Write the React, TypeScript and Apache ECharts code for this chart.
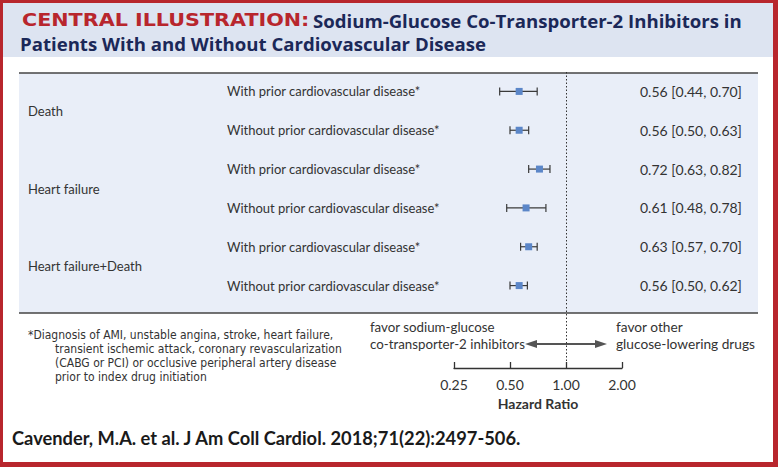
import React, { useEffect, useRef } from "react";
import * as echarts from "echarts";

const subgroupLabels = [
  "With prior cardiovascular disease*",
  "Without prior cardiovascular disease*",
  "With prior cardiovascular disease*",
  "Without prior cardiovascular disease*",
  "With prior cardiovascular disease*",
  "Without prior cardiovascular disease*",
];
const groupLabels = ["Death", "Heart failure", "Heart failure+Death"];
const hrValues = [0.56, 0.56, 0.72, 0.61, 0.63, 0.56];
const ciLower = [0.44, 0.5, 0.63, 0.48, 0.57, 0.5];
const ciUpper = [0.7, 0.63, 0.82, 0.78, 0.7, 0.62];
const axisTicks = [0.25, 0.5, 1, 2];
const footnoteLines = [
  "*Diagnosis of AMI, unstable angina, stroke, heart failure,",
  "transient ischemic attack, coronary revascularization",
  "(CABG or PCI) or occlusive peripheral artery disease",
  "prior to index drug initiation",
];

const fmt = (v: number) => v.toFixed(2);
const ciText = hrValues.map((h, i) => `${fmt(h)} [${fmt(ciLower[i])}, ${fmt(ciUpper[i])}]`);

const RED = "#b8262d";
const NAVY = "#1b2858";
const TEXT = "#333333";
const BODY_FONT = "Lato, 'Noto Sans', sans-serif";
const TITLE_FONT = "'Open Sans', 'Noto Sans', sans-serif";
const NARROW_FONT = "'Liberation Sans Narrow', 'DejaVu Sans Condensed', sans-serif";

export default function App() {
  const ref = useRef<HTMLDivElement>(null);
  useEffect(() => {
    document.body.style.margin = "0";
    const chart = echarts.init(ref.current!, null, { renderer: "svg" });
    const cats = subgroupLabels.map((_, i) => String(i));
    const gridTop = 72;
    const gridH = 233;
    const rowH = gridH / subgroupLabels.length;

    const option: any = {
      animation: false,
      backgroundColor: "#ffffff",
      grid: [
        { left: 454, width: 168, top: gridTop, height: gridH },
        { left: 454, width: 168, top: gridTop + gridH, height: 368 - gridTop - gridH },
      ],
      xAxis: [
        {
          type: "log",
          logBase: 2,
          min: axisTicks[0],
          max: axisTicks[axisTicks.length - 1],
          gridIndex: 0,
          show: false,
        },
        {
          type: "log",
          logBase: 2,
          min: axisTicks[0],
          max: axisTicks[axisTicks.length - 1],
          gridIndex: 1,
          position: "bottom",
          axisLine: { show: true, lineStyle: { color: "#333", width: 1.3 } },
          axisTick: { show: true, inside: true, length: 6, lineStyle: { color: "#333", width: 1.3 } },
          minorTick: { show: false },
          splitLine: { show: false },
          axisLabel: {
            margin: 9,
            color: TEXT,
            fontSize: 14,
            fontFamily: BODY_FONT,
            formatter: (v: number) => fmt(v),
          },
          name: "Hazard Ratio",
          nameLocation: "middle",
          nameGap: 28,
          nameTextStyle: { color: TEXT, fontSize: 14, fontWeight: "bold", fontFamily: BODY_FONT },
        },
      ],
      yAxis: [
        {
          type: "category",
          gridIndex: 0,
          data: cats,
          inverse: true,
          axisLine: { show: false },
          axisTick: { show: false },
          splitLine: { show: false },
          axisLabel: {
            align: "left",
            margin: 454 - 227,
            color: TEXT,
            fontSize: 13,
            fontFamily: BODY_FONT,
            formatter: (_v: string, i: number) => subgroupLabels[i],
          },
        },
        {
          type: "category",
          gridIndex: 0,
          position: "right",
          data: cats,
          inverse: true,
          axisLine: { show: false },
          axisTick: { show: false },
          splitLine: { show: false },
          axisLabel: {
            align: "left",
            margin: 640 - 622,
            color: TEXT,
            fontSize: 14,
            fontFamily: BODY_FONT,
            formatter: (_v: string, i: number) => ciText[i],
          },
        },
        { type: "value", gridIndex: 1, min: 0, max: 1, show: false },
      ],
      series: [
        {
          type: "custom",
          xAxisIndex: 0,
          yAxisIndex: 0,
          z: 5,
          encode: { x: [1, 2, 3], y: 0 },
          data: hrValues.map((h, i) => [i, h, ciLower[i], ciUpper[i]]),
          renderItem: (_p: any, api: any) => {
            const y = api.value(0);
            const pM = api.coord([api.value(1), y]);
            const pL = api.coord([api.value(2), y]);
            const pR = api.coord([api.value(3), y]);
            const ls = { stroke: "#3a3a3a", lineWidth: 1.2 };
            return {
              type: "group",
              children: [
                { type: "line", shape: { x1: pL[0], y1: pL[1], x2: pR[0], y2: pR[1] }, style: ls },
                { type: "line", shape: { x1: pL[0], y1: pL[1] - 4, x2: pL[0], y2: pL[1] + 4 }, style: ls },
                { type: "line", shape: { x1: pR[0], y1: pR[1] - 4, x2: pR[0], y2: pR[1] + 4 }, style: ls },
                {
                  type: "rect",
                  shape: { x: pM[0] - 3.5, y: pM[1] - 3.5, width: 7, height: 7 },
                  style: { fill: "#5b86c8" },
                },
              ],
            };
          },
          markLine: {
            silent: true,
            symbol: "none",
            label: { show: false },
            lineStyle: { color: "#333", type: [1.5, 2], width: 1 },
            data: [{ xAxis: 1 }],
          },
        },
        {
          type: "scatter",
          xAxisIndex: 1,
          yAxisIndex: 2,
          symbolSize: 0,
          data: [[1, 0.5]],
          silent: true,
          markLine: {
            silent: true,
            symbol: "none",
            label: { show: false },
            lineStyle: { color: "#333", type: [1.5, 2], width: 1 },
            data: [{ xAxis: 1 }],
          },
        },
      ],
      graphic: [
        // border
        { type: "rect", z: -10, shape: { x: 0, y: 0, width: 778, height: 467 }, style: { fill: RED } },
        { type: "rect", z: -9, shape: { x: 3, y: 3, width: 770, height: 459 }, style: { fill: "#ffffff" } },
        // header band
        { type: "rect", z: -8, shape: { x: 3, y: 3, width: 770, height: 54 }, style: { fill: "#dde4f1" } },
        {
          type: "text",
          x: 22,
          y: 20,
          scaleX: 1.15,
          style: {
            text: "CENTRAL ILLUSTRATION:",
            fill: RED,
            fontSize: 18,
            fontWeight: "bold",
            fontFamily: "'DejaVu Sans', sans-serif",
            verticalAlign: "middle",
          },
        },
        {
          type: "text",
          x: 313,
          y: 20,
          style: {
            text: "Sodium-Glucose Co-Transporter-2 Inhibitors in",
            fill: NAVY,
            fontSize: 18.6,
            fontWeight: "bold",
            fontFamily: TITLE_FONT,
            verticalAlign: "middle",
          },
        },
        {
          type: "text",
          x: 20,
          y: 43,
          style: {
            text: "Patients With and Without Cardiovascular Disease",
            fill: NAVY,
            fontSize: 18.6,
            fontWeight: "bold",
            fontFamily: TITLE_FONT,
            verticalAlign: "middle",
          },
        },
        // panel
        { type: "rect", z: -7, shape: { x: 19, y: 73, width: 739, height: 240 }, style: { fill: "#e9eef8" } },
        { type: "line", z: -6, shape: { x1: 19, y1: 73, x2: 758, y2: 73 }, style: { stroke: "#444", lineWidth: 1.5 } },
        { type: "line", z: -6, shape: { x1: 19, y1: 313, x2: 758, y2: 313 }, style: { stroke: "#444", lineWidth: 1.5 } },
        // group labels
        ...groupLabels.map((g, k) => ({
          type: "text",
          x: 28,
          y: gridTop + rowH * (2 * k + 1),
          style: {
            text: g,
            fill: TEXT,
            fontSize: 13,
            fontFamily: BODY_FONT,
            verticalAlign: "middle",
          },
        })),
        // footnote
        ...footnoteLines.map((l, k) => ({
          type: "text",
          x: k === 0 ? 28 : 55,
          y: 335 + k * 14,
          style: { text: l, fill: TEXT, fontSize: 12, fontFamily: NARROW_FONT, verticalAlign: "middle" },
        })),
        // favor texts
        {
          type: "text",
          x: 370,
          y: 335,
          style: {
            text: "favor sodium-glucose\nco-transporter-2 inhibitors",
            fill: TEXT,
            fontSize: 13.3,
            lineHeight: 17,
            fontFamily: BODY_FONT,
            align: "left",
            verticalAlign: "middle",
          },
        },
        {
          type: "text",
          x: 616,
          y: 335,
          style: {
            text: "favor other\nglucose-lowering drugs",
            fill: TEXT,
            fontSize: 13.7,
            lineHeight: 17,
            fontFamily: BODY_FONT,
            align: "left",
            verticalAlign: "middle",
          },
        },
        // arrow
        { type: "line", shape: { x1: 533, y1: 344, x2: 599, y2: 344 }, style: { stroke: "#555", lineWidth: 2 } },
        { type: "polygon", shape: { points: [[525, 344], [537, 340], [537, 348]] }, style: { fill: "#555" } },
        { type: "polygon", shape: { points: [[607, 344], [595, 340], [595, 348]] }, style: { fill: "#555" } },
        // citation
        {
          type: "text",
          x: 12,
          y: 438,
          style: {
            text: "Cavender, M.A. et al. J Am Coll Cardiol. 2018;71(22):2497-506.",
            fill: "#1a1a1a",
            fontSize: 18.3,
            fontWeight: "bold",
            fontFamily: BODY_FONT,
            verticalAlign: "middle",
          },
        },
      ],
    };
    chart.setOption(option);
    return () => chart.dispose();
  }, []);
  return <div ref={ref} style={{ width: 778, height: 467 }} />;
}
